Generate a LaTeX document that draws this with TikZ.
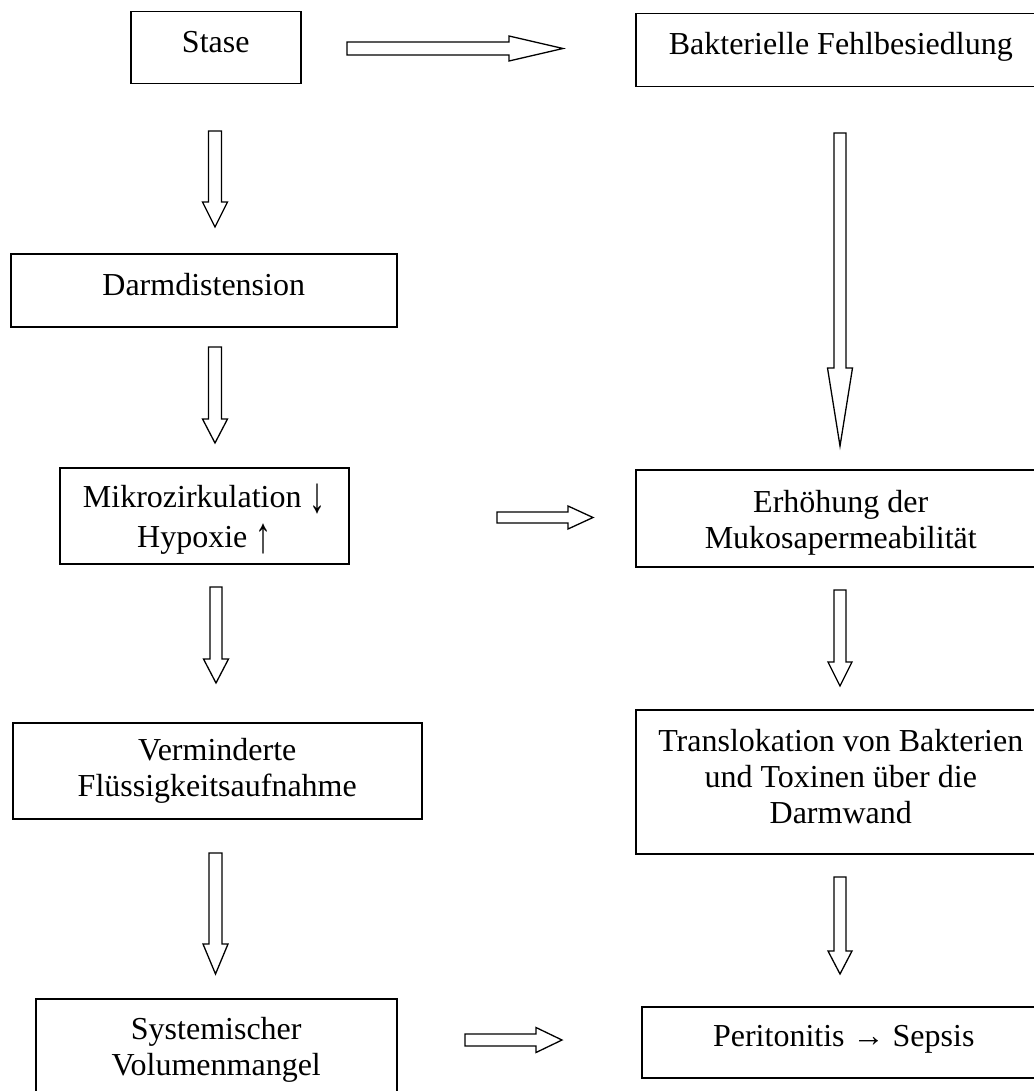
\documentclass[tikz,border=0pt]{standalone}
\usepackage{graphicx}
\usepackage{fontspec}
\setmainfont{Liberation Serif}
\newcommand{\tallarrow}[1]{\raisebox{-7pt}{\raisebox{\depth}{\resizebox*{\width}{30pt}{#1}}}}
\tikzset{
  box/.style={draw, line width=1.5pt, inner sep=0pt, align=center, anchor=north west,
    font=\fontsize{32}{36}\selectfont},
  arrline/.style={draw, line width=1.3pt, line join=miter, fill=white},
  pics/blockarrow/.style args={#1/#2/#3/#4}{code={
    \path[arrline] (0,{-#2/2}) -- ({#1-#4},{-#2/2}) -- ({#1-#4},{-#3/2}) -- (#1,0)
      -- ({#1-#4},{#3/2}) -- ({#1-#4},{#2/2}) -- (0,{#2/2}) -- cycle;
  }}
}
\begin{document}
\begin{tikzpicture}[x=1pt,y=-1pt]
\path[fill=white, use as bounding box] (0,0) rectangle (1033,1091);

% boxes
\node[box, minimum width=170pt, minimum height=72pt, text depth=12pt]  (stase) at (130,11)  {Stase};
\node[box, minimum width=410pt, minimum height=73pt, text depth=13pt]  (bakt)  at (635,13)  {Bakterielle Fehlbesiedlung};
\node[box, minimum width=386pt, minimum height=73pt, text depth=11pt]  (darm)  at (10,253)  {Darmdistension};
\node[box, minimum width=289pt, minimum height=96pt]  (mikro) at (59,467)  {\mbox{}\\[-6pt]Mikrozirkulation \tallarrow{↓}\\[4pt]Hypoxie \tallarrow{↑}};
\node[box, minimum width=410pt, minimum height=97pt]  (erh)   at (635,469) {\mbox{}\\[-4pt]Erhöhung der\\Mukosapermeabilität};
\node[box, minimum width=409pt, minimum height=96pt]  (verm)  at (12,722)  {Verminderte\\Flüssigkeitsaufnahme};
\node[box, minimum width=410pt, minimum height=144pt] (trans) at (635,709) {Translokation von Bakterien\\und Toxinen über die\\Darmwand\\[-26pt]\mbox{}};
\node[box, minimum width=361pt, minimum height=102pt] (sys)   at (35,998)  {Systemischer\\Volumenmangel};
\node[box, minimum width=404pt, minimum height=71pt, text depth=12pt]  (peri)  at (641,1006) {Peritonitis → Sepsis};

% block arrows (tail centre; length/shaft width/head width/head length)
\coordinate (t1)  at (347,48.5);
\coordinate (t2)  at (215,131);
\coordinate (t3)  at (215,347);
\coordinate (t4)  at (840,133);
\coordinate (t5)  at (216,587);
\coordinate (t6)  at (497,517.5);
\coordinate (t7)  at (840,590);
\coordinate (t8)  at (215.5,853);
\coordinate (t9)  at (840,877);
\coordinate (t10) at (465,1040);

\pic at (t1) {blockarrow=216/13/25/54};
\pic[rotate=-90] at (t2) {blockarrow=96/13/25/25};
\pic[rotate=-90] at (t3) {blockarrow=96/13/25/24};
\pic[rotate=-90] at (t4) {blockarrow=313/12/25/78};
\pic[rotate=-90] at (t5) {blockarrow=96/12/25/24};
\pic at (t6) {blockarrow=96/11/23/25};
\pic[rotate=-90] at (t7) {blockarrow=96/12/24/24};
\pic[rotate=-90] at (t8) {blockarrow=121/13/25/30};
\pic[rotate=-90] at (t9) {blockarrow=97/12/24/23};
\pic at (t10) {blockarrow=97/12/25/26};
\end{tikzpicture}
\end{document}
